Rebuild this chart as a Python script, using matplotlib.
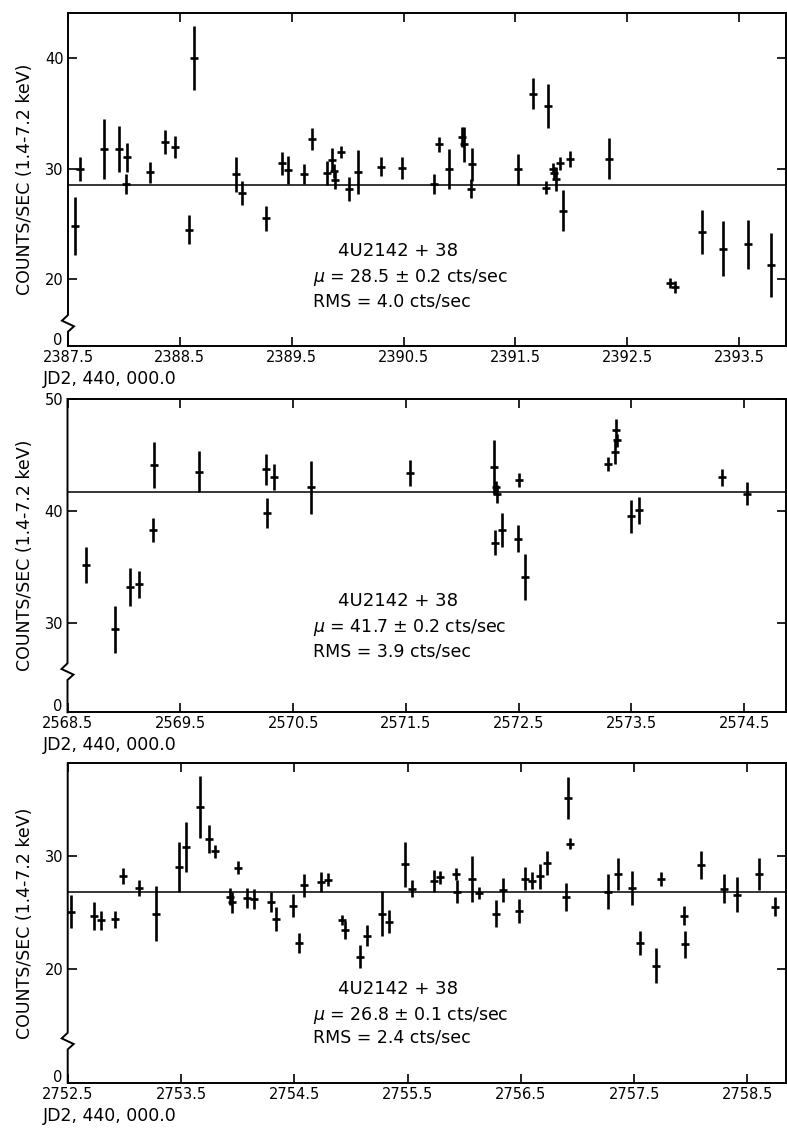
import matplotlib
matplotlib.use("Agg")
import matplotlib.pyplot as plt

# ---------------- data (JD - 2,440,000) ----------------
t1 = [2387.56, 2387.61, 2387.82, 2387.96, 2388.03, 2388.02, 2388.23, 2388.37, 2388.46,
      2388.58, 2388.63, 2389.00, 2389.06, 2389.27, 2389.41, 2389.47, 2389.61, 2389.68,
      2389.82, 2389.86, 2389.88, 2389.89, 2389.94, 2390.01, 2390.09, 2390.30, 2390.49,
      2390.77, 2390.82, 2390.91, 2391.02, 2391.04, 2391.10, 2391.11, 2391.52, 2391.66,
      2391.77, 2391.79, 2391.84, 2391.85, 2391.86, 2391.90, 2391.93, 2391.99, 2392.34,
      2392.88, 2392.93, 2393.17, 2393.36, 2393.58, 2393.79]
y1 = [24.8, 30.0, 31.8, 31.8, 31.05, 28.6, 29.7, 32.4, 32.0,
      24.5, 40.0, 29.5, 27.8, 25.5, 30.5, 29.9, 29.5, 32.7,
      29.6, 30.8, 29.8, 29.0, 31.5, 28.2, 29.7, 30.2, 30.1,
      28.6, 32.2, 30.0, 32.9, 32.2, 28.2, 30.4, 29.95, 36.8,
      28.3, 35.7, 30.0, 29.6, 29.1, 30.5, 26.2, 30.9, 30.9,
      19.7, 19.3, 24.3, 22.75, 23.15, 21.25]
e1 = [2.6, 1.1, 2.7, 2.05, 1.3, 0.9, 0.95, 1.1, 1.0,
      1.35, 2.9, 1.6, 1.05, 1.1, 1.05, 1.25, 0.9, 1.0,
      1.1, 1.1, 0.6, 0.8, 0.55, 1.1, 2.0, 0.85, 1.0,
      0.9, 0.65, 1.8, 0.9, 1.6, 0.85, 1.5, 1.4, 1.4,
      0.6, 2.0, 0.5, 0.6, 1.1, 0.6, 1.85, 0.7, 1.85,
      0.45, 0.5, 2.0, 2.5, 2.2, 2.9]

t2 = [2568.66, 2568.92, 2569.05, 2569.13, 2569.26, 2569.27, 2569.67, 2570.26, 2570.27,
      2570.33, 2570.66, 2571.54, 2572.28, 2572.29, 2572.30, 2572.31, 2572.35, 2572.49,
      2572.50, 2572.56, 2573.29, 2573.35, 2573.36, 2573.37, 2573.50, 2573.57, 2574.30,
      2574.52]
y2 = [35.2, 29.4, 33.2, 33.45, 38.3, 44.1, 43.5, 43.7, 39.8,
      43.0, 42.1, 43.4, 43.9, 37.15, 42.1, 41.5, 38.3, 37.5,
      42.75, 34.1, 44.2, 45.3, 47.2, 46.3, 39.5, 40.05, 43.0,
      41.55]
e2 = [1.6, 2.1, 1.7, 1.2, 1.1, 2.05, 1.85, 1.35, 1.35,
      1.15, 2.4, 1.15, 2.4, 1.1, 0.6, 0.8, 1.5, 1.2,
      0.65, 2.05, 0.6, 1.1, 1.05, 0.6, 1.5, 1.2, 0.75,
      1.05]

t3 = [2752.53, 2752.73, 2752.79, 2752.92, 2752.99, 2753.13, 2753.28, 2753.48, 2753.54,
      2753.67, 2753.75, 2753.80, 2753.93, 2753.95, 2754.00, 2754.08, 2754.14, 2754.29,
      2754.34, 2754.49, 2754.54, 2754.59, 2754.74, 2754.80, 2754.92, 2754.95, 2755.08,
      2755.14, 2755.27, 2755.34, 2755.48, 2755.54, 2755.73, 2755.79, 2755.93, 2755.94,
      2756.07, 2756.13, 2756.28, 2756.34, 2756.48, 2756.54, 2756.60, 2756.67, 2756.73,
      2756.90, 2756.92, 2756.93, 2757.27, 2757.36, 2757.48, 2757.55, 2757.69, 2757.74,
      2757.94, 2757.95, 2758.09, 2758.29, 2758.41, 2758.60, 2758.74]
y3 = [25.07, 24.7, 24.3, 24.4, 28.2, 27.2, 24.9, 29.05, 30.8,
      34.3, 31.5, 30.4, 26.4, 25.9, 28.97, 26.3, 26.2, 25.95,
      24.4, 25.6, 22.3, 27.4, 27.7, 27.9, 24.3, 23.45, 21.1,
      22.95, 24.9, 24.2, 29.25, 27.1, 27.8, 28.1, 28.4, 26.85,
      27.95, 26.7, 24.9, 27.0, 25.1, 28.0, 27.8, 28.2, 29.35,
      26.4, 35.1, 31.1, 26.85, 28.4, 27.2, 22.3, 20.3, 27.95,
      24.7, 22.2, 29.2, 27.1, 26.55, 28.4, 25.5]
e3 = [1.45, 1.25, 0.85, 0.75, 0.7, 0.7, 2.4, 2.2, 2.2,
      2.75, 1.2, 0.6, 0.75, 0.95, 0.6, 0.9, 0.85, 0.9,
      1.05, 1.0, 0.9, 1.0, 0.85, 0.55, 0.45, 0.8, 1.05,
      0.9, 2.0, 1.05, 2.0, 0.75, 0.95, 0.6, 0.5, 1.0,
      2.05, 0.55, 1.2, 1.05, 1.05, 1.0, 0.75, 1.1, 1.05,
      1.25, 1.85, 0.5, 1.55, 1.45, 1.5, 1.05, 1.55, 0.65,
      0.85, 1.2, 1.25, 1.3, 1.55, 1.4, 0.85]

means = [28.5, 41.7, 26.8]
mu_text = [r"$\mu$ = 28.5 $\pm$ 0.2 cts/sec", r"$\mu$ = 41.7 $\pm$ 0.2 cts/sec",
           r"$\mu$ = 26.8 $\pm$ 0.1 cts/sec"]
rms_text = ["RMS = 4.0 cts/sec", "RMS = 3.9 cts/sec", "RMS = 2.4 cts/sec"]
source = "4U2142 + 38"
xticks = [[2387.5, 2388.5, 2389.5, 2390.5, 2391.5, 2392.5, 2393.5],
          [2568.5, 2569.5, 2570.5, 2571.5, 2572.5, 2573.5, 2574.5],
          [2752.5, 2753.5, 2754.5, 2755.5, 2756.5, 2757.5, 2758.5]]
yticks = [[20, 30, 40], [30, 40, 50], [20, 30]]
ylabel = "COUNTS/SEC (1.4-7.2 keV)"
xlabel = "JD2, 440, 000.0"

# ---------------- layout (pixels) ----------------
W, H = 787, 1131
fig = plt.figure(figsize=(W / 100, H / 100), dpi=100)
plt.rcParams['font.family'] = ['DejaVu Sans']

# left, right, top, bottom in pixels; x-limits; y-limits; zigzag (px above bottom); text y px
panels = [
    dict(box=(68, 786, 13.3, 346.0), xlim=(2387.5, 2393.92), ylim=(13.96, 44.07),
         zz=31, ty=(251, 278, 302)),
    dict(box=(67.5, 786, 399.0, 712.3), xlim=(2568.5, 2574.87), ylim=(22.0, 50.0),
         zz=49, ty=(601, 628, 651)),
    dict(box=(67.7, 786, 763.3, 1082.7), xlim=(2752.5, 2758.84), ylim=(9.94, 38.2),
         zz=50, ty=(989, 1015, 1038)),
]
data = [(t1, y1, e1), (t2, y2, e2), (t3, y3, e3)]

for i, p in enumerate(panels):
    l, r, t, b = p['box']
    ax = fig.add_axes([l / W, 1 - b / H, (r - l) / W, (b - t) / H])
    tt, yy, ee = data[i]
    ax.errorbar(tt, yy, yerr=ee, fmt='_', color='black', ms=6, mew=1.9,
                elinewidth=1.9, capsize=0, zorder=3)
    ax.axhline(means[i], color='black', lw=1.1, zorder=2)
    ax.set_xlim(*p['xlim'])
    ax.set_ylim(*p['ylim'])
    ax.set_xticks(xticks[i])
    ax.set_xticklabels([("%.1f" % v) for v in xticks[i]])
    ax.set_yticks(yticks[i])
    ax.set_yticklabels([str(v) for v in yticks[i]])
    ax.tick_params(direction='in', length=6.5, width=1.2, top=True, right=True,
                   labelsize=10.5, pad=3)
    for s in ['top', 'right', 'bottom']:
        ax.spines[s].set_linewidth(1.4)
    ax.spines['left'].set_visible(False)
    hpx = b - t
    wpx = r - l
    # "0" label at the broken axis bottom
    ax.text(-5.5 / wpx, 5.5 / hpx, '0', transform=ax.transAxes, ha='right',
            va='center', fontsize=10.5)
    # left spine with axis-break zigzag
    z0 = p['zz'] / hpx
    dx = 1.0 / wpx
    dy = 1.0 / hpx
    xs = [0, 0, -6 * dx, 6 * dx, 0, 0]
    ys = [1, z0, z0 - 5.7 * dy, z0 - 11.3 * dy, z0 - 16.7 * dy, 0]
    ax.plot(xs, ys, transform=ax.transAxes, color='black', lw=1.4,
            clip_on=False, solid_joinstyle='miter', zorder=4)
    # y label
    fig.text(25 / W, 1 - (t + b) / 2 / H, ylabel, rotation=90, ha='center',
             va='center', fontsize=12.5)
    # x label
    fig.text(43 / W, 1 - (b + 33) / H, xlabel, ha='left', va='center', fontsize=12.5)
    # annotation block
    fig.text(338 / W, 1 - p['ty'][0] / H, source, ha='left', va='center', fontsize=13)
    fig.text(313 / W, 1 - p['ty'][1] / H, mu_text[i], ha='left', va='center',
             fontsize=12.5)
    fig.text(313 / W, 1 - p['ty'][2] / H, rms_text[i], ha='left', va='center',
             fontsize=12.5)

fig.savefig("out.png", dpi=100)
